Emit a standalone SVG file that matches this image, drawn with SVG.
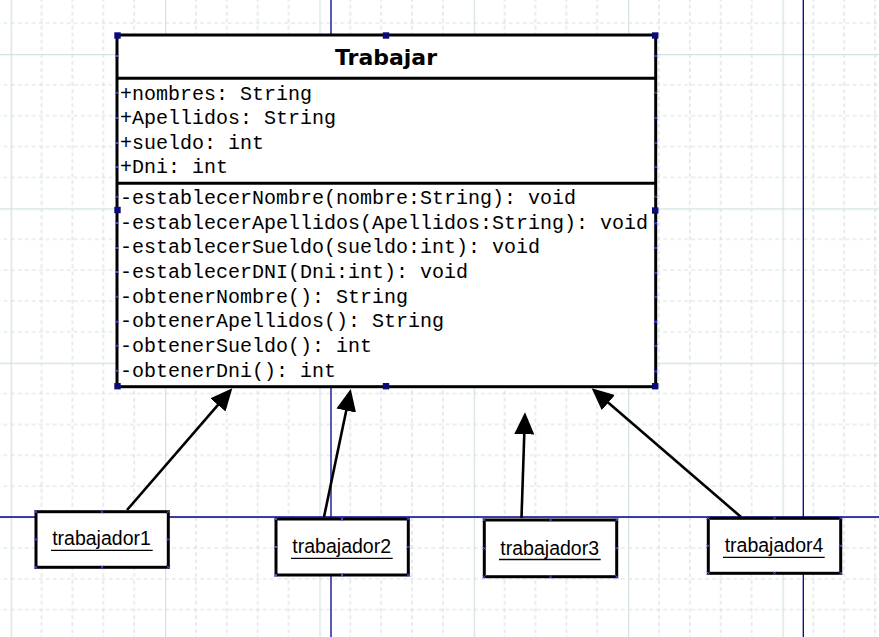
<svg xmlns="http://www.w3.org/2000/svg" xmlns:xlink="http://www.w3.org/1999/xlink" width="879" height="637" viewBox="0 0 879 637">
<style>
.gs{stroke:#d3e2df;stroke-width:1.2;fill:none}
.gd{stroke:#d3e2df;stroke-width:1.2;fill:none;stroke-dasharray:4 3}
.page{stroke:#00008b;stroke-width:1.3;fill:none}
.box{fill:#ffffff;stroke:#000000;stroke-width:3}
.sep{stroke:#000000;stroke-width:3}
.title{font-family:"DejaVu Sans","Liberation Sans",sans-serif;font-weight:bold;font-size:22px;fill:#000}
.mono{font-family:"Liberation Mono","Courier New",monospace;font-size:20px;fill:#000}
.lbl{font-family:"Liberation Sans",Arial,sans-serif;font-size:19.5px;fill:#000}
.ul{stroke:#000;stroke-width:1.3}
.hdl{fill:#0a0a78}
.xm{stroke:#4b4bdc;stroke-width:1;fill:none}
.conn{stroke:#000;stroke-width:2.6;fill:none}
</style>
<defs>
<pattern id="grid" patternUnits="userSpaceOnUse" x="10.7" y="54" width="154.35" height="154.35">
<path class="gd" d="M30.87,0V154.35M61.74,0V154.35M92.61,0V154.35M123.48,0V154.35M0,30.87H154.35M0,61.74H154.35M0,92.61H154.35M0,123.48H154.35"/>
<path class="gs" d="M0.6,0V154.35M0,0.6H154.35"/>
</pattern>
<path id="xm" class="xm" d="M-1.6,-1.6L1.6,1.6M-1.6,1.6L1.6,-1.6"/>
<rect id="hd" class="hdl" x="-3.2" y="-3.2" width="6.4" height="6.4"/>
<marker id="ah" markerUnits="userSpaceOnUse" viewBox="0 0 22 20" refX="16" refY="10" markerWidth="22" markerHeight="20" orient="auto">
<path d="M0,0L22,10L0,20z" fill="#000"/>
</marker>
</defs>
<rect width="879" height="637" fill="#ffffff"/>
<rect width="879" height="637" fill="url(#grid)"/>
<g id="page-lines">
<line class="page" x1="331" y1="0" x2="331" y2="637"/>
<line class="page" x1="803.3" y1="0" x2="803.3" y2="637"/>
<line class="page" x1="0" y1="517" x2="879" y2="517"/>
</g>
<g id="connectors">
<line class="conn" x1="127" y1="510" x2="228.4" y2="392.8" marker-end="url(#ah)"/>
<line class="conn" x1="324" y1="517" x2="349.5" y2="394.9" marker-end="url(#ah)"/>
<line class="conn" x1="521.5" y1="518" x2="524.8" y2="418.3" marker-end="url(#ah)"/>
<line class="conn" x1="741" y1="517" x2="596.2" y2="392.2" marker-end="url(#ah)"/>
</g>
<g id="Trabajar">
<rect class="box" x="117" y="35" width="538.7" height="351.7"/>
<line class="sep" x1="117" y1="78.3" x2="655.7" y2="78.3"/>
<line class="sep" x1="117" y1="183.3" x2="655.7" y2="183.3"/>
<text class="title" x="386" y="65" text-anchor="middle">Trabajar</text>
<text class="mono" x="120" y="100">+nombres: String</text>
<text class="mono" x="120" y="124.3">+Apellidos: String</text>
<text class="mono" x="120" y="148.5">+sueldo: int</text>
<text class="mono" x="120" y="172.7">+Dni: int</text>
<text class="mono" x="120" y="204">-establecerNombre(nombre:String): void</text>
<text class="mono" x="120" y="228.5">-establecerApellidos(Apellidos:String): void</text>
<text class="mono" x="120" y="253.2">-establecerSueldo(sueldo:int): void</text>
<text class="mono" x="120" y="277.8">-establecerDNI(Dni:int): void</text>
<text class="mono" x="120" y="302.5">-obtenerNombre(): String</text>
<text class="mono" x="120" y="327.2">-obtenerApellidos(): String</text>
<text class="mono" x="120" y="351.9">-obtenerSueldo(): int</text>
<text class="mono" x="120" y="376.6">-obtenerDni(): int</text>
<g>
<use xlink:href="#xm" x="117" y="56"/><use xlink:href="#xm" x="117" y="92.7"/><use xlink:href="#xm" x="117" y="118"/><use xlink:href="#xm" x="117" y="143"/><use xlink:href="#xm" x="117" y="167"/><use xlink:href="#xm" x="117" y="196.7"/><use xlink:href="#xm" x="117" y="223"/><use xlink:href="#xm" x="117" y="248"/><use xlink:href="#xm" x="117" y="272"/><use xlink:href="#xm" x="117" y="296.7"/><use xlink:href="#xm" x="117" y="321.7"/><use xlink:href="#xm" x="117" y="345.7"/><use xlink:href="#xm" x="117" y="370.7"/>
<use xlink:href="#xm" x="655.7" y="56"/><use xlink:href="#xm" x="655.7" y="92.7"/><use xlink:href="#xm" x="655.7" y="118"/><use xlink:href="#xm" x="655.7" y="143"/><use xlink:href="#xm" x="655.7" y="167"/><use xlink:href="#xm" x="655.7" y="196.7"/><use xlink:href="#xm" x="655.7" y="223.3"/><use xlink:href="#xm" x="655.7" y="248"/><use xlink:href="#xm" x="655.7" y="273"/><use xlink:href="#xm" x="655.7" y="297"/><use xlink:href="#xm" x="655.7" y="321.7"/><use xlink:href="#xm" x="655.7" y="346"/><use xlink:href="#xm" x="655.7" y="371.5"/>
</g>
<g>
<use xlink:href="#hd" x="117.5" y="35.5"/><use xlink:href="#hd" x="386" y="35.5"/><use xlink:href="#hd" x="655.2" y="35.5"/>
<use xlink:href="#hd" x="117.5" y="210"/><use xlink:href="#hd" x="655.2" y="210.5"/>
<use xlink:href="#hd" x="117.5" y="386.2"/><use xlink:href="#hd" x="386" y="386.2"/><use xlink:href="#hd" x="655.2" y="386.2"/>
</g>
</g>
<g id="trabajador1">
<rect class="box" x="36" y="511.7" width="132.3" height="55.6"/>
<text class="lbl" x="101.5" y="545" text-anchor="middle">trabajador1</text>
<line class="ul" x1="51" y1="550.3" x2="152.7" y2="550.3"/>
<use xlink:href="#xm" x="36" y="511.7"/><use xlink:href="#xm" x="102" y="511.7"/><use xlink:href="#xm" x="168.3" y="511.7"/><use xlink:href="#xm" x="36" y="539.5"/><use xlink:href="#xm" x="168.3" y="539.5"/><use xlink:href="#xm" x="36" y="567.3"/><use xlink:href="#xm" x="102" y="567.3"/><use xlink:href="#xm" x="168.3" y="567.3"/>
</g>
<g id="trabajador2">
<rect class="box" x="276" y="519" width="132.3" height="56"/>
<text class="lbl" x="341.7" y="553.3" text-anchor="middle">trabajador2</text>
<line class="ul" x1="291" y1="558.3" x2="392.7" y2="558.3"/>
<use xlink:href="#xm" x="276" y="519"/><use xlink:href="#xm" x="342" y="519"/><use xlink:href="#xm" x="408.3" y="519"/><use xlink:href="#xm" x="276" y="547"/><use xlink:href="#xm" x="408.3" y="547"/><use xlink:href="#xm" x="276" y="575"/><use xlink:href="#xm" x="342" y="575"/><use xlink:href="#xm" x="408.3" y="575"/>
</g>
<g id="trabajador3">
<rect class="box" x="484.3" y="520" width="132.4" height="56.7"/>
<text class="lbl" x="549.7" y="555" text-anchor="middle">trabajador3</text>
<line class="ul" x1="499" y1="559.5" x2="600.7" y2="559.5"/>
<use xlink:href="#xm" x="484.3" y="520"/><use xlink:href="#xm" x="550.5" y="520"/><use xlink:href="#xm" x="616.7" y="520"/><use xlink:href="#xm" x="484.3" y="548.3"/><use xlink:href="#xm" x="616.7" y="548.3"/><use xlink:href="#xm" x="484.3" y="576.7"/><use xlink:href="#xm" x="550.5" y="576.7"/><use xlink:href="#xm" x="616.7" y="576.7"/>
</g>
<g id="trabajador4">
<rect class="box" x="708.3" y="518.3" width="132.4" height="55"/>
<text class="lbl" x="774" y="551.7" text-anchor="middle">trabajador4</text>
<line class="ul" x1="723" y1="557.3" x2="824.7" y2="557.3"/>
<use xlink:href="#xm" x="708.3" y="518.3"/><use xlink:href="#xm" x="774.5" y="518.3"/><use xlink:href="#xm" x="840.7" y="518.3"/><use xlink:href="#xm" x="708.3" y="545.8"/><use xlink:href="#xm" x="840.7" y="545.8"/><use xlink:href="#xm" x="708.3" y="573.3"/><use xlink:href="#xm" x="774.5" y="573.3"/><use xlink:href="#xm" x="840.7" y="573.3"/>
</g>
</svg>
